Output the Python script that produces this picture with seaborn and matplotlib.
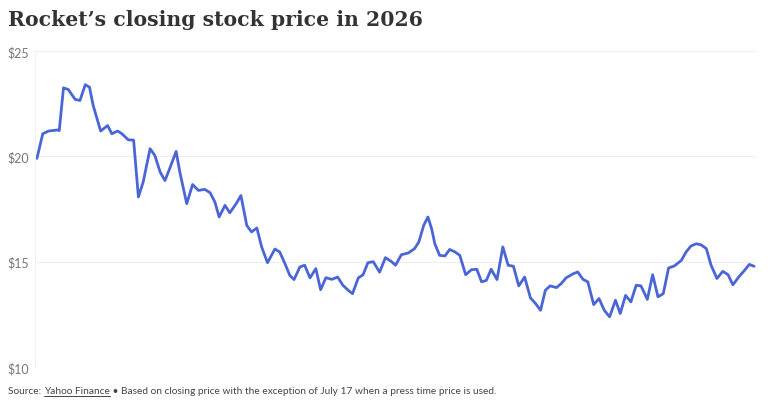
import numpy as np
import pandas as pd
import matplotlib
matplotlib.use("Agg")
import matplotlib.pyplot as plt
import seaborn as sns

# trading day index since Jan 2, 2026 and close price
day = [0, 1.1, 2.2, 3.9, 4.2, 5.0, 5.9, 7.2, 8.1, 9.1, 9.9, 10.6, 12.0, 13.3, 14.1,
       15.2, 16.0, 17.2, 18.2, 19.1, 20.0, 21.3, 22.2, 23.2, 24.1, 25.1, 26.2, 26.9,
       28.2, 29.3, 30.4, 31.6, 32.6, 33.5, 34.3, 35.4, 36.3, 37.5, 38.4, 39.5, 40.4,
       41.4, 42.3, 43.4, 44.8, 45.7, 46.7, 47.6, 48.4, 49.5, 50.4, 51.4, 52.5, 53.4,
       54.4, 55.5, 56.6, 57.6, 58.6, 59.4, 60.5, 61.4, 62.3, 63.3, 64.5, 65.6, 66.7,
       67.5, 68.6, 69.9, 71.1, 71.9, 72.8, 73.6, 74.3, 74.9, 75.8, 76.8, 77.7, 78.7,
       79.6, 80.7, 81.8, 82.8, 83.7, 84.6, 85.5, 86.6, 87.7, 88.7, 89.7, 90.7, 91.8,
       92.9, 93.9, 94.8, 95.7, 96.6, 97.8, 98.7, 99.6, 100.9, 101.8, 102.8, 103.7,
       104.8, 105.8, 106.8, 107.8, 108.9, 109.8, 110.8, 111.8, 112.8, 113.7, 114.9,
       115.9, 116.9, 117.9, 118.9, 120.0, 121.3, 122.2, 123.1, 124.1, 125.0, 126.0,
       126.9, 128.0, 129.1, 130.1, 131.0, 132.1, 133.2, 134.1, 135.0]
price = [19.90, 21.07, 21.20, 21.25, 21.22, 23.25, 23.17, 22.70, 22.65, 23.40, 23.28,
         22.40, 21.20, 21.46, 21.07, 21.20, 21.07, 20.78, 20.77, 18.07, 18.78, 20.36,
         20.04, 19.25, 18.85, 19.49, 20.23, 19.25, 17.75, 18.66, 18.38, 18.43, 18.27,
         17.83, 17.12, 17.67, 17.32, 17.75, 18.14, 16.72, 16.41, 16.60, 15.70, 14.95,
         15.60, 15.46, 14.90, 14.35, 14.15, 14.75, 14.83, 14.23, 14.67, 13.67, 14.24,
         14.16, 14.27, 13.88, 13.64, 13.48, 14.23, 14.38, 14.95, 15.00, 14.50, 15.19,
         15.01, 14.83, 15.33, 15.41, 15.62, 15.94, 16.72, 17.12, 16.56, 15.85, 15.30,
         15.27, 15.58, 15.46, 15.30, 14.38, 14.62, 14.64, 14.04, 14.11, 14.64, 14.15,
         15.70, 14.83, 14.78, 13.85, 14.27, 13.28, 13.00, 12.69, 13.64, 13.85, 13.77,
         13.96, 14.23, 14.42, 14.51, 14.16, 14.04, 12.96, 13.25, 12.69, 12.38, 13.17,
         12.54, 13.40, 13.09, 13.88, 13.85, 13.21, 14.38, 13.33, 13.48, 14.70, 14.80,
         15.06, 15.46, 15.74, 15.85, 15.80, 15.62, 14.83, 14.20, 14.54, 14.38, 13.90,
         14.27, 14.59, 14.87, 14.78]
y_ticks = [10, 15, 20, 25]
y_labels = ["$10", "$15", "$20", "$25"]

df = pd.DataFrame({"day": day, "price": price})

sns.set_theme(style="white")
plt.rcParams["font.family"] = ["Lato", "DejaVu Sans"]

fig = plt.figure(figsize=(7.68, 4.06), dpi=100)
ax = fig.add_axes([0.046, 0.0936, 0.938, 0.7784])

sns.lineplot(data=df, x="day", y="price", ax=ax, color="#4a66d6", linewidth=2.0,
             solid_joinstyle="round", solid_capstyle="round")

ax.set_xlim(-0.3, 135.3)
ax.set_ylim(10, 25)
ax.set_yticks(y_ticks)
ax.set_yticklabels(y_labels)
ax.set_xticks([])
ax.set_xlabel("")
ax.set_ylabel("")
ax.tick_params(axis="y", length=0, pad=4.5, labelsize=9, labelcolor="#777777")
ax.grid(axis="y", color="#eeeeee", linewidth=0.8)
for s in ["top", "right", "bottom"]:
    ax.spines[s].set_visible(False)
ax.spines["left"].set_color("#f0f0f0")
ax.spines["left"].set_linewidth(0.8)

fig.text(0.0104, 0.951, "Rocket\u2019s closing stock price in 2026", family="DejaVu Serif",
         fontweight="bold", fontsize=14.7, color="#333333", va="center", ha="left")

# footer with underlined source name
fig.canvas.draw()
r = fig.canvas.get_renderer()
fy = 1 - 392 / 406
fs = 7.3
t1 = fig.text(0.0104, fy, "Source: ", fontsize=fs, color="#444444", va="center")
bb = t1.get_window_extent(r)
t2 = fig.text(bb.x1 / 768, fy, "Yahoo Finance", fontsize=fs, color="#444444", va="center")
bb2 = t2.get_window_extent(r)
fig.add_artist(plt.Line2D([bb2.x0 / 768, bb2.x1 / 768], [(bb2.y0 - 0.5) / 406] * 2,
                          color="#444444", linewidth=0.7))
fig.text(bb2.x1 / 768, fy, " \u2022 Based on closing price with the exception of July 17 when a press time price is used.",
         fontsize=fs, color="#444444", va="center")

fig.savefig("out.png", dpi=100)
